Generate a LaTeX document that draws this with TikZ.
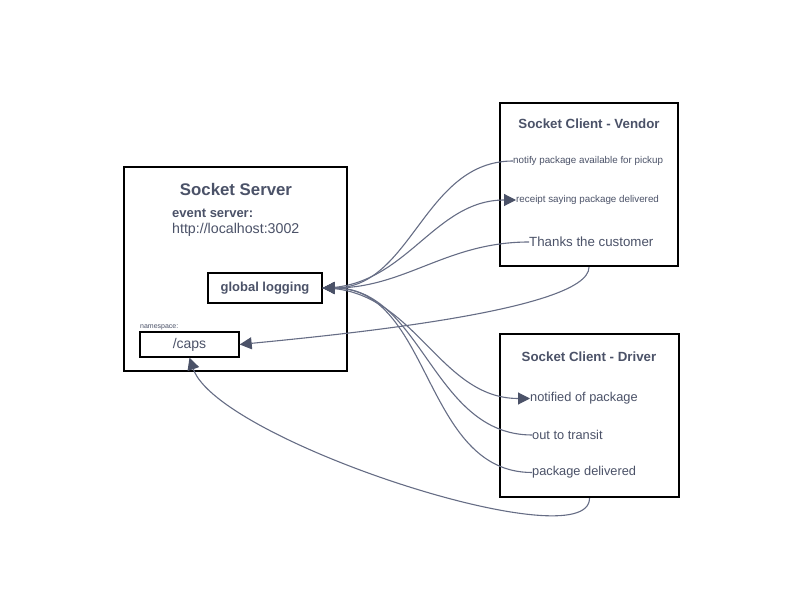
\documentclass[tikz,border=0pt]{standalone}
\usepackage{fontspec}
\setmainfont{Liberation Sans}
\usepackage{tikz}
\usetikzlibrary{arrows.meta}
\usetikzlibrary{positioning}

\definecolor{ink}{HTML}{4B5268}
\definecolor{wire}{HTML}{666D85}

\tikzset{
  bigbox/.style={draw=black, line width=2.4pt, fill=white, inner sep=0pt},
  smallbox/.style={draw=black, line width=1.4pt, fill=white, inner sep=0pt, text=ink},
  title/.style={text=ink, font=\fontsize{13.3}{15}\selectfont\bfseries, inner sep=0pt},
  item/.style={text=ink, anchor=west, inner sep=0pt},
  link/.style={draw=wire, line width=1.1pt},
  tip/.style={-{Triangle[length=12pt,width=12pt,color=ink]}},
}

\begin{document}
\begin{tikzpicture}[x=1pt,y=-1pt]
    \useasboundingbox (0,0) rectangle (803,601);

    % server
    \node[bigbox, minimum width=223, minimum height=204] (server) at (235.5,269) {};
    \node[title, font=\fontsize{16.8}{19}\selectfont\bfseries] (servertitle) at (236,189) {Socket Server};
    \node[item, font=\fontsize{13}{15}\selectfont\bfseries] (eventlbl) at (172,213) {event server:};
    \node[item, font=\fontsize{14.2}{16}\selectfont] (eventurl) at (172,230) {http://localhost:3002};
    \node[smallbox, minimum width=114, minimum height=30, font=\fontsize{13}{15}\selectfont\bfseries] (logging) at (265,288) {\raisebox{-1.5pt}{global logging}};
    \node[item, font=\fontsize{7}{8}\selectfont] (nslbl) at (140,327) {namespace:};
    \node[smallbox, minimum width=99, minimum height=25, font=\fontsize{14}{15}\selectfont] (caps) at (189.5,344.5) {\raisebox{-1pt}{/caps}};

    % vendor
    \node[bigbox, minimum width=178, minimum height=163] (vendor) at (589,184.5) {};
    \node[title] (vendortitle) at (589,124) {Socket Client - Vendor};
    \node[item, font=\fontsize{9.8}{11}\selectfont] (notify) at (513,161) {notify package available for pickup};
    \node[item, font=\fontsize{9.8}{11}\selectfont] (receipt) at (516,200) {receipt saying package delivered};
    \node[item, font=\fontsize{13.3}{15}\selectfont] (thanks) at (529,242) {Thanks the customer};

    % driver
    \node[bigbox, minimum width=179, minimum height=163] (driver) at (589.5,415.5) {};
    \node[title] (drivertitle) at (589,357) {Socket Client - Driver};
    \node[item, font=\fontsize{12.8}{15}\selectfont] (notified) at (530,398.5) {notified of package};
    \node[item, font=\fontsize{12.8}{15}\selectfont] (transit) at (532,435) {out to transit};
    \node[item, font=\fontsize{12.8}{15}\selectfont] (delivered) at (532,472.5) {package delivered};

    % events
    \draw[link, tip] (notify.west) to[out=180, in=0] (logging.east);
    \draw[link, tip] (logging.east) to[out=0, in=180] (receipt.west);
    \draw[link, tip] (thanks.west) to[out=180, in=0] (logging.east);
    \draw[link, tip] (logging.east) to[out=0, in=180] (notified.west);
    \draw[link, tip] (transit.west) to[out=180, in=0] (logging.east);
    \draw[link, tip] (delivered.west) to[out=180, in=0] (logging.east);

    \draw[link, tip] (vendor.south) .. controls +(0,44) and +(91,-9) .. (caps.east);
    \draw[link, tip] (driver.south) .. controls +(0,63) and +(28,83) .. (caps.south);
\end{tikzpicture}
\end{document}
